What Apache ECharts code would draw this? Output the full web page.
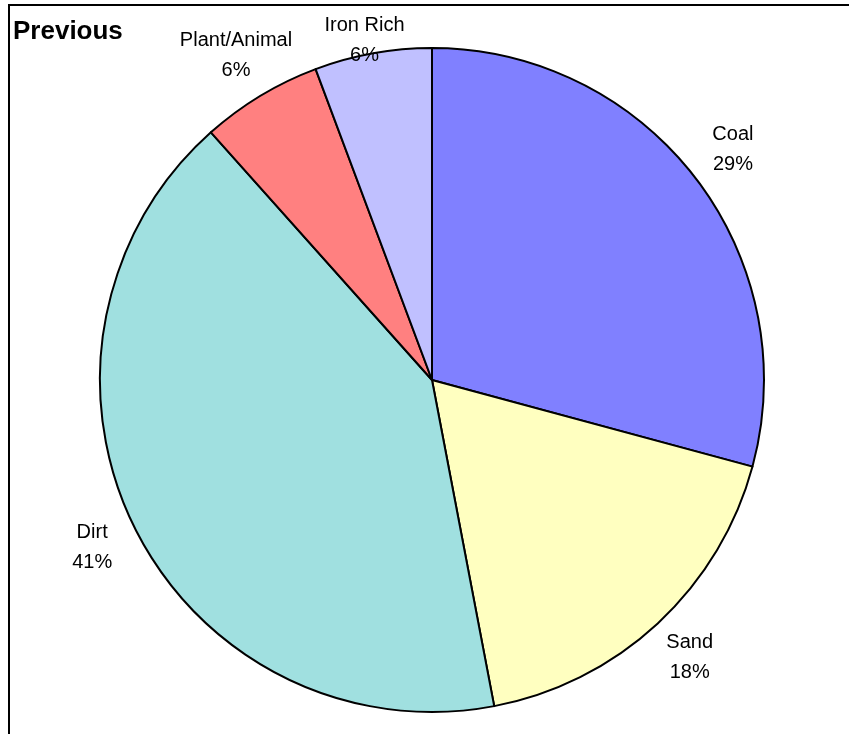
<!DOCTYPE html>
<html>
<head>
<meta charset="utf-8">
<script src="https://cdn.jsdelivr.net/npm/echarts@6/dist/echarts.min.js"></script>
<style>
  html, body { margin: 0; padding: 0; background: #fff; }
  #chart { width: 849px; height: 734px; }
</style>
</head>
<body>
<div id="chart"></div>
<script>
// data
var categories = ['Coal', 'Sand', 'Dirt', 'Plant/Animal', 'Iron Rich'];
var shares = [29.2, 17.8, 41.4, 5.9, 5.7];
var colors = ['#8080ff', '#ffffc0', '#a0e0e0', '#ff8080', '#c0c0ff'];

var pieData = categories.map(function (name, i) {
  return { name: name, value: shares[i], itemStyle: { color: colors[i] } };
});

var chart = echarts.init(document.getElementById('chart'));

var option = {
  animation: false,
  title: {
    text: 'Previous',
    left: 8,
    top: 14,
    textStyle: {
      fontFamily: 'Liberation Sans, Arial, sans-serif',
      fontWeight: 'bold',
      fontSize: 26,
      color: '#000'
    }
  },
  graphic: [{
    type: 'rect',
    shape: { x: 9, y: 5, width: 900, height: 800 },
    style: { fill: 'none', stroke: '#000', lineWidth: 2 },
    silent: true
  }],
  series: [{
    // the pie itself
    type: 'pie',
    center: [432, 380],
    radius: 332,
    startAngle: 90,
    clockwise: true,
    data: pieData,
    label: { show: false },
    labelLine: { show: false },
    itemStyle: { borderColor: '#000', borderWidth: 2 },
    emphasis: { disabled: true }
  }, {
    // transparent ring, only used to place centered labels outside the pie
    type: 'pie',
    center: [432, 380],
    radius: [332, 420],
    startAngle: 90,
    clockwise: true,
    silent: true,
    data: categories.map(function (name, i) {
      return { name: name, value: shares[i] };
    }),
    itemStyle: { color: 'rgba(0,0,0,0)' },
    label: {
      show: true,
      position: 'inside',
      formatter: function (p) {
        return p.name + '\n' + Math.round(p.percent) + '%';
      },
      fontFamily: 'Liberation Sans, Arial, sans-serif',
      fontSize: 20,
      lineHeight: 30,
      color: '#000'
    },
    // keep labels inside the frame at the top
    labelLayout: function (params) {
      var r = params.labelRect;
      var cy = r.y + r.height / 2;
      if (cy < 40) {
        return { y: 40 };
      }
      return {};
    },
    labelLine: { show: false },
    emphasis: { disabled: true }
  }]
};

chart.setOption(option);
</script>
</body>
</html>
